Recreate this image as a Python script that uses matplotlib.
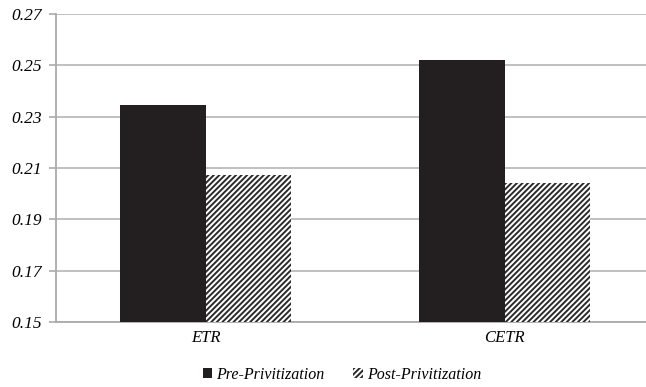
import matplotlib.pyplot as plt
import numpy as np

categories = ["ETR", "CETR"]
pre = [0.2345, 0.2521]
post = [0.2073, 0.2042]
yticks = [0.15, 0.17, 0.19, 0.21, 0.23, 0.25, 0.27]

plt.rcParams['font.family'] = ['Liberation Serif', 'DejaVu Serif']
plt.rcParams['font.style'] = 'italic'
plt.rcParams['hatch.color'] = '#2a2a2a'
plt.rcParams['hatch.linewidth'] = 1.4

f = plt.figure(figsize=(6.46, 3.87), dpi=100)
ax = f.add_axes([56 / 646, 65 / 387, 598 / 646, 308 / 387])

x = np.arange(len(categories))
w = 0.287
ax.bar(x - w / 2, pre, w, color='#231f20', label='Pre-Privitization', zorder=3)
ax.bar(x + w / 2, post, w, color='white', hatch='//////', edgecolor='#2a2a2a',
       linewidth=0, label='Post-Privitization', zorder=3)

ax.set_ylim(0.15, 0.27)
ax.set_xlim(-0.5, 1.5)
ax.set_yticks(yticks)
ax.set_yticklabels(["%.2f" % t for t in yticks], fontsize=12.5)
ax.set_xticks(x)
ax.set_xticklabels(categories, fontsize=12)
ax.tick_params(axis='x', length=0, pad=6)
ax.tick_params(axis='y', length=5, width=1.2, color='#aaaaaa', pad=5)
ax.grid(axis='y', color='#bbbbbb', linewidth=1.3, zorder=0)
for s in ['top', 'right']:
    ax.spines[s].set_visible(False)
for s in ['left', 'bottom']:
    ax.spines[s].set_color('#aaaaaa')
    ax.spines[s].set_linewidth(1.3)

f.legend(loc='center', bbox_to_anchor=(342 / 646, 1 - 375 / 387), ncol=2,
         frameon=False, fontsize=11.5, handlelength=0.6, handleheight=0.6,
         handletextpad=0.25, columnspacing=1.8)

plt.savefig("out.png", dpi=100)
plt.close(f)
